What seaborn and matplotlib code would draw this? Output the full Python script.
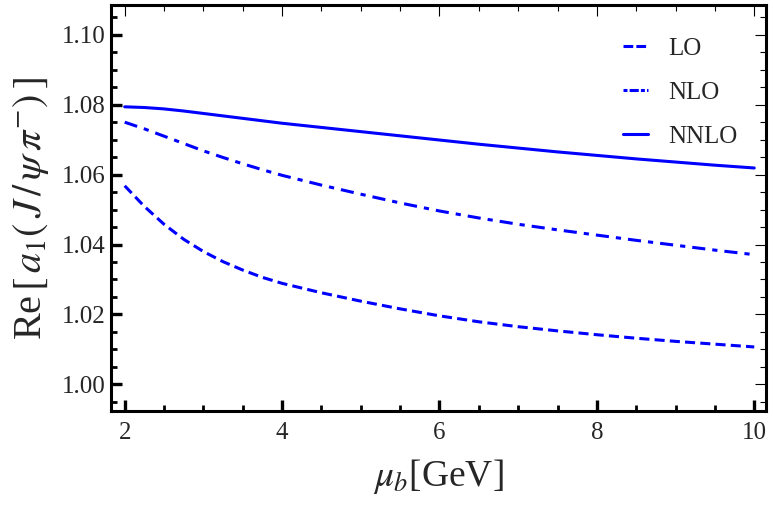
import numpy as np
import pandas as pd
import matplotlib
matplotlib.use("Agg")
import matplotlib.pyplot as plt
from matplotlib.lines import Line2D
from matplotlib.ticker import MultipleLocator, FormatStrFormatter
import seaborn as sns

# values
mu_b = [2.0, 2.25, 2.5, 2.75, 3.0, 3.25, 3.5, 3.75, 4.0, 4.5, 5.0, 5.5,
        6.0, 6.5, 7.0, 7.5, 8.0, 8.5, 9.0, 9.5, 10.0]
lo = [1.0568, 1.0509, 1.0458, 1.0415, 1.0380, 1.0351, 1.0327, 1.0306, 1.0289, 1.0262, 1.0238,
      1.0216, 1.0196, 1.0179, 1.0165, 1.0153, 1.0142, 1.0132, 1.0123, 1.0115, 1.0107]
nlo = [1.0750, 1.0731, 1.0710, 1.0689, 1.0668, 1.0649, 1.0631, 1.0614, 1.0598, 1.0570, 1.0544,
       1.0519, 1.0496, 1.0476, 1.0458, 1.0442, 1.0427, 1.0412, 1.0398, 1.0384, 1.0371]
nnlo = [1.0794, 1.0792, 1.0788, 1.0782, 1.0775, 1.0768, 1.0761, 1.0754, 1.0747, 1.0735, 1.0723,
        1.0711, 1.0699, 1.0687, 1.0676, 1.0665, 1.0655, 1.0645, 1.0636, 1.0627, 1.0619]
orders = ["LO", "NLO", "NNLO"]

df = pd.DataFrame({
    "mu": mu_b * 3,
    "a1": lo + nlo + nnlo,
    "order": [o for o in orders for _ in mu_b],
})

sns.set_style("white")
plt.rcParams["font.family"] = ["Liberation Serif", "DejaVu Serif"]
plt.rcParams["mathtext.fontset"] = "stix"

fig = plt.figure(figsize=(7.73, 5.09), dpi=100)
ax = fig.add_axes([0.144, 0.192, 0.847, 0.798])

blue = "#0000ff"
sns.lineplot(
    data=df, x="mu", y="a1", hue="order", style="order",
    palette={o: blue for o in orders},
    dashes={"LO": (3.3, 1.7), "NLO": (4.3, 2.3, 1.7, 2.3), "NNLO": ""},
    linewidth=2.2, ax=ax, legend=False,
)

ax.set_xlim(1.83, 10.15)
ax.set_ylim(0.9923, 1.1085)
ax.xaxis.set_major_locator(MultipleLocator(2))
ax.xaxis.set_minor_locator(MultipleLocator(0.5))
ax.yaxis.set_major_locator(MultipleLocator(0.02))
ax.yaxis.set_minor_locator(MultipleLocator(0.005))
ax.yaxis.set_major_formatter(FormatStrFormatter("%.2f"))

ax.tick_params(which="both", direction="in", left=True, bottom=True,
               top=True, right=True, labelsize=18, color="black")
ax.tick_params(axis="x", which="major", length=8, width=2.4, pad=8)
ax.tick_params(axis="y", which="major", length=8, width=2.4, pad=4)
ax.tick_params(which="minor", length=4, width=2.0)

# top and right ticks thin and grey
for axis in (ax.xaxis, ax.yaxis):
    for tick in axis.get_major_ticks() + axis.get_minor_ticks():
        tick.tick2line.set_color("#aaaaaa")
        tick.tick2line.set_markeredgewidth(0.8)

for side in ["left", "bottom", "top", "right"]:
    ax.spines[side].set_color("black")
    ax.spines[side].set_linewidth(2.2)

ax.set_xlabel(r"$\mu_b$[GeV]", fontsize=27, labelpad=9)
ax.set_ylabel(r"Re$\,[\,a_1(\,J\,/\,\psi\,\pi^{-})\,]$", fontsize=29, labelpad=8)

handles = [
    Line2D([], [], color=blue, lw=2.2, dashes=(3.2, 1.0)),
    Line2D([], [], color=blue, lw=2.2, dashes=(1.3, 0.7, 3.0, 0.7)),
    Line2D([], [], color=blue, lw=2.2),
]
ax.legend(handles, orders, loc="upper right", frameon=False, fontsize=18,
          handlelength=1.0, labelspacing=0.85, handletextpad=0.8,
          bbox_to_anchor=(0.99, 0.975))

fig.savefig("out.png", dpi=100)
